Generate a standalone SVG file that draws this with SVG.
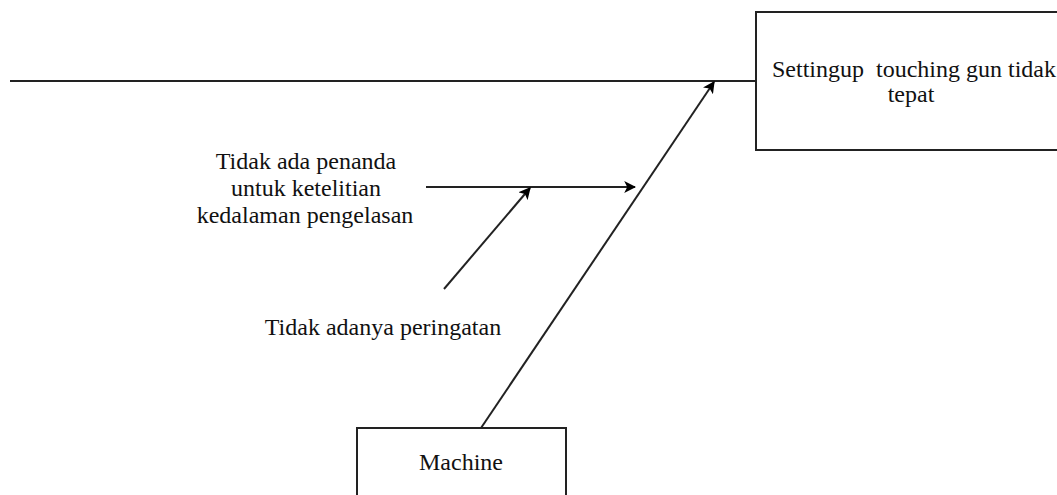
<svg xmlns="http://www.w3.org/2000/svg" width="1057" height="495" viewBox="0 0 1057 495">
<style>
.t{font-family:"Liberation Serif","Times New Roman",serif;font-size:24px;fill:#111;text-anchor:middle;white-space:pre}
.box{fill:#fff;stroke:#222;stroke-width:2}
.ln{stroke:#222;stroke-width:2;fill:none}
</style>
<defs>
<marker id="ah" viewBox="0 0 10 10" refX="9" refY="5" markerWidth="12" markerHeight="12" markerUnits="userSpaceOnUse" orient="auto"><path d="M0,0 L10,5 L0,10 L2.5,5 Z" fill="#000"/></marker>
</defs>
<g id="connectors">
<line class="ln" x1="10" y1="81" x2="756" y2="81"/>
<line class="ln" x1="481" y1="428" x2="714" y2="82" marker-end="url(#ah)"/>
<line class="ln" x1="426" y1="187" x2="635" y2="187" marker-end="url(#ah)"/>
<line class="ln" x1="444" y1="289" x2="530" y2="188" marker-end="url(#ah)"/>
</g>
<g id="effect">
<rect class="box" x="756" y="12" width="310" height="138"/>
<text class="t" x="914" y="77" xml:space="preserve">Settingup  touching gun tidak</text>
<text class="t" x="911" y="102">tepat</text>
</g>
<g id="machine">
<rect class="box" x="357" y="428" width="209" height="80"/>
<text class="t" x="461" y="470">Machine</text>
</g>
<g id="cause1">
<text class="t" x="306" y="169">Tidak ada penanda</text>
<text class="t" x="306" y="196">untuk ketelitian</text>
<text class="t" x="305" y="223">kedalaman pengelasan</text>
</g>
<g id="cause2">
<text class="t" x="383" y="335">Tidak adanya peringatan</text>
</g>
</svg>
